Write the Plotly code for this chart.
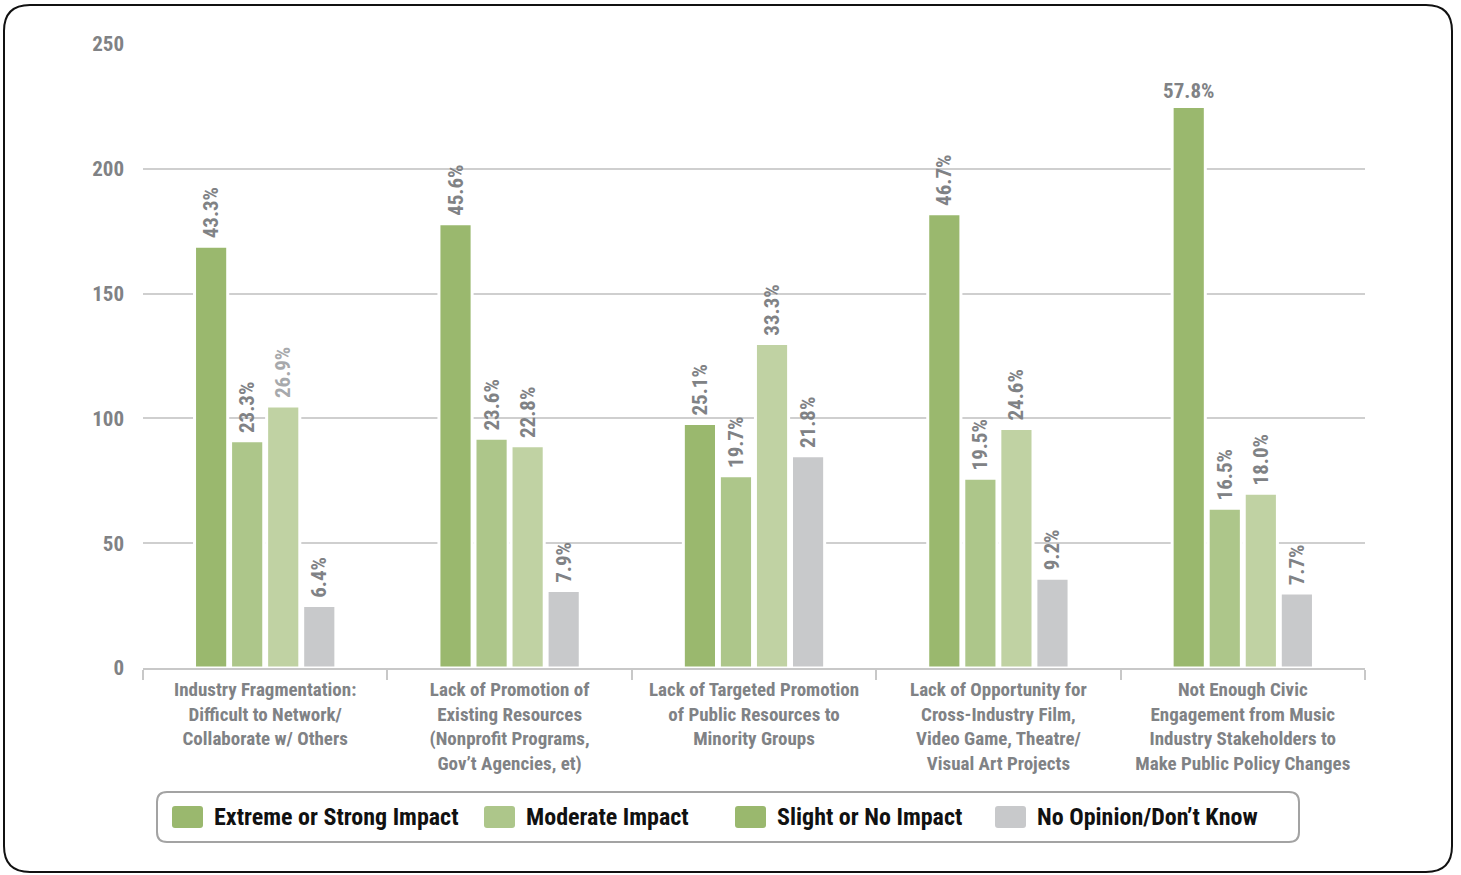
import plotly.graph_objects as go

# ---------------- data ----------------
categories = [
    "Industry Fragmentation:<br>Difficult to Network/<br>Collaborate w/ Others",
    "Lack of Promotion of<br>Existing Resources<br>(Nonprofit Programs,<br>Gov’t Agencies, et)",
    "Lack of Targeted Promotion<br>of Public Resources to<br>Minority Groups",
    "Lack of Opportunity for<br>Cross-Industry Film,<br>Video Game, Theatre/<br>Visual Art Projects",
    "Not Enough Civic<br>Engagement from Music<br>Industry Stakeholders to<br>Make Public Policy Changes",
]
series_names = ["Extreme or Strong Impact", "Moderate Impact", "Slight or No Impact", "No Opinion/Don’t Know"]

extreme = [169, 178, 98, 182, 225]
moderate = [91, 92, 77, 76, 64]
slight = [105, 89, 130, 96, 70]
no_opinion = [25, 31, 85, 36, 30]

extreme_labels = ["43.3%", "45.6%", "25.1%", "46.7%", "57.8%"]
moderate_labels = ["23.3%", "23.6%", "19.7%", "19.5%", "16.5%"]
slight_labels = ["26.9%", "22.8%", "33.3%", "24.6%", "18.0%"]
no_opinion_labels = ["6.4%", "7.9%", "21.8%", "9.2%", "7.7%"]

y_ticks = [0, 50, 100, 150, 200, 250]

# ---------------- styles ----------------
bar_colors = ["#9ab86e", "#adc68a", "#c0d2a3", "#c8c9cb"]
legend_colors = ["#9ab86e", "#adc68a", "#9ab86e", "#c8c9cb"]
label_grey = "#808285"
label_light = "#a7a9ac"
FONT = "Liberation Sans Narrow, Roboto Condensed, Arial Narrow, Roboto, sans-serif"

W, H = 1461, 875
ML, MR, MT, MB = 143, 96, 44, 207
PW, PH = W - ML - MR, H - MT - MB


def px(x):
    return (x - ML) / PW


def py(y):
    return (H - MB - y) / PH


fig = go.Figure()


def add_bar(name, xs, ys, texts, color, group, angle, text_colors):
    fig.add_trace(go.Bar(
        name=name, x=xs, y=ys, text=[" " + t if angle else t for t in texts],
        textposition="outside", textangle=angle, cliponaxis=False,
        constraintext="none",
        textfont=dict(family=FONT, size=21, color=text_colors, weight="bold"),
        marker=dict(color=color, line=dict(color="white", width=3)),
        offsetgroup=group, showlegend=False, hoverinfo="x+y",
    ))


# Extreme: rotated labels for first four, horizontal for the last
add_bar(series_names[0], categories[:4], extreme[:4], extreme_labels[:4],
        bar_colors[0], "a", -90, label_grey)
add_bar(series_names[0], categories[4:], extreme[4:], extreme_labels[4:],
        bar_colors[0], "a", 0, label_grey)
add_bar(series_names[1], categories, moderate, moderate_labels,
        bar_colors[1], "b", -90, label_grey)
add_bar(series_names[2], categories, slight, slight_labels,
        bar_colors[2], "c", -90, [label_light] + [label_grey] * 4)
add_bar(series_names[3], categories, no_opinion, no_opinion_labels,
        bar_colors[3], "d", -90, label_grey)

shapes = []
annotations = []


def rounded_rect(x0, y0, x1, y1, r):
    # pixel coords -> paper path with rounded corners
    return (f"M {px(x0 + r)} {py(y0)} L {px(x1 - r)} {py(y0)} "
            f"Q {px(x1)} {py(y0)} {px(x1)} {py(y0 + r)} "
            f"L {px(x1)} {py(y1 - r)} Q {px(x1)} {py(y1)} {px(x1 - r)} {py(y1)} "
            f"L {px(x0 + r)} {py(y1)} Q {px(x0)} {py(y1)} {px(x0)} {py(y1 - r)} "
            f"L {px(x0)} {py(y0 + r)} Q {px(x0)} {py(y0)} {px(x0 + r)} {py(y0)} Z")


# outer frame
shapes.append(dict(type="path", xref="paper", yref="paper",
                   path=rounded_rect(4, 5, 1452, 872, 26),
                   line=dict(color="#111111", width=2), layer="above"))
# legend frame
shapes.append(dict(type="path", xref="paper", yref="paper",
                   path=rounded_rect(157, 792, 1299, 842, 10),
                   line=dict(color="#a3a3a3", width=2), layer="above"))

legend_x = [172, 484, 735, 995]
for name, col, lx in zip(series_names, legend_colors, legend_x):
    shapes.append(dict(type="path", xref="paper", yref="paper",
                       path=rounded_rect(lx, 806, lx + 31, 828, 3),
                       fillcolor=col, line=dict(color=col, width=0), layer="above"))
    annotations.append(dict(x=px(lx + 40), y=py(817), xref="paper", yref="paper",
                            text=name, showarrow=False, xanchor="left", yanchor="middle",
                            font=dict(family=FONT, size=24, color="#111111", weight="bold")))

fig.update_layout(
    width=W, height=H,
    margin=dict(l=ML, r=MR, t=MT, b=MB),
    paper_bgcolor="white", plot_bgcolor="white",
    barmode="group", bargap=0.41, bargroupgap=0.08,
    showlegend=False,
    font=dict(family=FONT, color=label_grey),
    shapes=shapes, annotations=annotations,
    xaxis=dict(
        type="category", showgrid=False, showline=True, linecolor="#c8c8c8", linewidth=2,
        ticks="outside", tickson="boundaries", ticklen=10, tickcolor="#c8c8c8", tickwidth=2,
        tickfont=dict(family=FONT, size=19, color=label_grey, weight="bold"),
        tickangle=0, ticklabelstandoff=3,
    ),
    yaxis=dict(
        range=[0, 250], tickvals=y_ticks, showgrid=True, gridcolor="#cfcfcf", gridwidth=2,
        zeroline=False, showline=False, ticks="",
        tickfont=dict(family=FONT, size=21, color=label_grey, weight="bold"),
        ticklabelstandoff=18,
    ),
)

fig.write_html("out.html", config={"displayModeBar": False},
               post_script="document.body.style.margin='0';document.body.style.overflow='hidden';")
